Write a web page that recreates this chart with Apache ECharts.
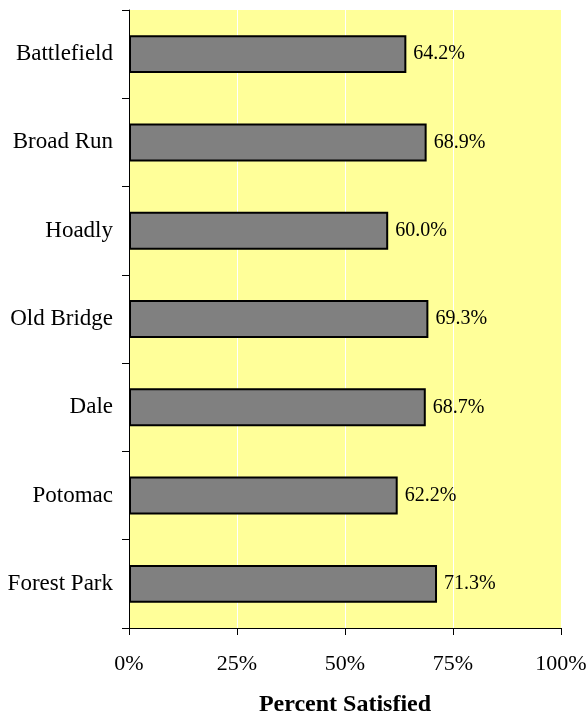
<!DOCTYPE html>
<html><head><meta charset="utf-8">
<script src="https://cdn.jsdelivr.net/npm/echarts@6/dist/echarts.min.js"></script>
<style>html,body{margin:0;padding:0;background:#fff}#c{width:587px;height:715px}</style>
</head><body><div id="c"></div>
<script>
const categories = ["Battlefield","Broad Run","Hoadly","Old Bridge","Dale","Potomac","Forest Park"];
const values = [64.2, 68.9, 60.0, 69.3, 68.7, 62.2, 71.3];
const xTicks = [0, 25, 50, 75, 100];
const axisTitle = "Percent Satisfied";

const font = "'Liberation Serif','Times New Roman',serif";
const chart = echarts.init(document.getElementById('c'));
chart.setOption({
  animation: false,
  grid: {left: 129, right: 26, top: 10, bottom: 87, show: true, backgroundColor: '#FFFF99', borderWidth: 0,
    containLabel: false, outerBoundsMode: 'none'},
  xAxis: {
    type: 'value', min: 0, max: 100, interval: 25,
    axisLine: {show: true, lineStyle: {color: '#000', width: 1}},
    axisTick: {show: true, length: 7, lineStyle: {color: '#000'}},
    splitLine: {show: true, lineStyle: {color: '#fff', width: 1}},
    axisLabel: {margin: 25, fontFamily: font, fontSize: 22, color: '#000',
      formatter: v => xTicks.includes(v) ? v + '%' : ''},
    name: axisTitle, nameLocation: 'middle', nameGap: 65,
    nameTextStyle: {fontFamily: font, fontSize: 24, fontWeight: 'bold', color: '#000'}
  },
  yAxis: {
    type: 'category', data: categories, inverse: true,
    axisLine: {show: true, lineStyle: {color: '#000', width: 1}},
    axisTick: {show: true, length: 7, lineStyle: {color: '#000'}},
    axisLabel: {margin: 16, fontFamily: font, fontSize: 23, color: '#000'}
  },
  series: [{
    type: 'bar', data: values, barWidth: '43%',
    itemStyle: {color: '#808080', borderColor: '#000', borderWidth: 2},
    label: {show: true, position: 'right', distance: 7, fontFamily: font, fontSize: 20, color: '#000',
      formatter: p => p.value.toFixed(1) + '%'}
  }]
});
</script></body></html>
